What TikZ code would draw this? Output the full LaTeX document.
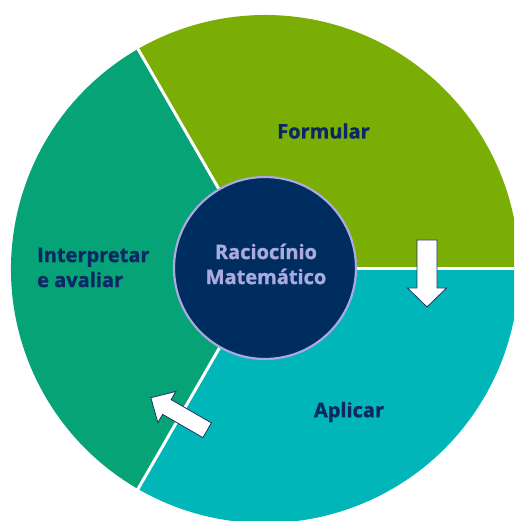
\documentclass[tikz,border=0pt]{standalone}
\usepackage{fontspec}
\setmainfont{Open Sans}[BoldFeatures={FakeBold=1.2}]
\definecolor{cform}{RGB}{122,174,5}
\definecolor{cinterp}{RGB}{5,163,118}
\definecolor{caplic}{RGB}{0,182,184}
\definecolor{cnavy}{RGB}{0,45,96}
\definecolor{clav}{RGB}{170,170,222}
\definecolor{ctext}{RGB}{12,40,100}
\definecolor{carrow}{RGB}{30,50,100}
\tikzset{
  seclabel/.style={text=ctext, font=\bfseries\fontsize{20}{25}\selectfont, inner sep=0pt},
  centerlabel/.style={text=clav, font=\bfseries\fontsize{20}{25}\selectfont, inner sep=0pt, align=center},
  divider/.style={draw=white, line width=3pt},
  blockarrow/.style={fill=white, draw=carrow, line width=0.8pt, line join=miter}
}
\begin{document}
\begin{tikzpicture}[x=1pt,y=1pt]
\path[use as bounding box] (-265,-252) rectangle (249,269);
\clip (-265,-252) rectangle (249,269);
\coordinate (c) at (0,0);
% sectors
\fill[cform] (c) -- (0:254) arc[start angle=0, end angle=120, radius=254] -- cycle;
\fill[cinterp] (c) -- (120:254) arc[start angle=120, end angle=240, radius=254] -- cycle;
\fill[caplic] (c) -- (240:254) arc[start angle=240, end angle=360, radius=254] -- cycle;
% dividers
\coordinate (d1) at (0:256);
\coordinate (d2) at (120:256);
\coordinate (d3) at (240:256);
\draw[divider] (c) -- (d1);
\draw[divider] (c) -- (d2);
\draw[divider] (c) -- (d3);
% centre
\node[circle, fill=cnavy, draw=clav, line width=2.2pt, minimum size=182pt, inner sep=0pt] (core) at (0,1) {};
\node[centerlabel] (coretext) at (1,5) {Raciocínio\\Matemático};
% labels
\node[seclabel] (form) at (58.5,138) {Formular};
\node[seclabel, anchor=west, align=left] (interp) at (-228,1.5) {Interpretar\\e avaliar};
\node[seclabel] (aplic) at (84,-143) {Aplicar};
% block arrows
\begin{scope}[shift={(162,-4.5)}]
\draw[blockarrow] (-10,33.5) -- (10,33.5) -- (10,-14.5) -- (19.5,-14.5) -- (0,-33.5) -- (-19.5,-14.5) -- (-10,-14.5) -- cycle;
\end{scope}
\begin{scope}[shift={(-86,-145)}, rotate=240]
\draw[blockarrow] (-8.5,32.5) -- (8.5,32.5) -- (8.5,-14) -- (18,-14) -- (0,-32.5) -- (-18,-14) -- (-8.5,-14) -- cycle;
\end{scope}
\end{tikzpicture}
\end{document}
